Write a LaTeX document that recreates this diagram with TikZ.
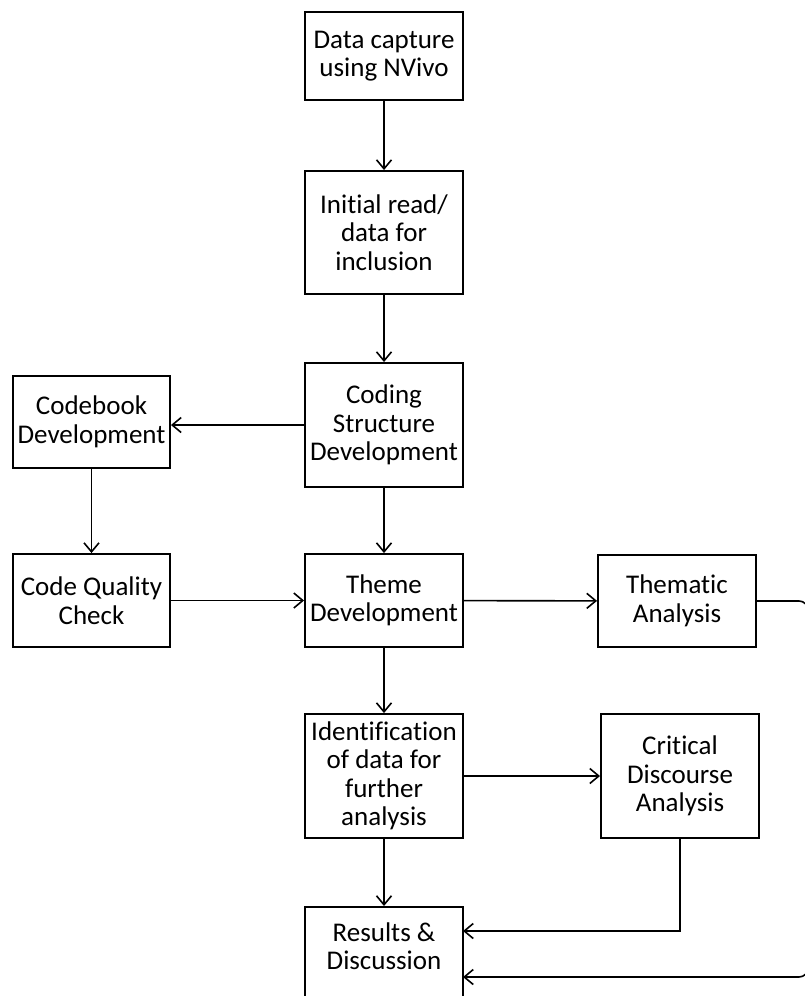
\documentclass[tikz,border=0pt]{standalone}
\usepackage{fontspec}
\setmainfont[Ligatures=NoCommon]{Carlito}
\usetikzlibrary{arrows.meta}
\begin{document}
\begin{tikzpicture}[x=1pt,y=-1pt,
  box/.style={draw, line width=1.9pt, inner sep=0pt, align=center,
    font=\fontsize{27}{28.5}\selectfont, minimum width=158pt},
  lbl/.style={inner sep=0pt, align=center, font=\fontsize{27}{28.5}\selectfont},
  conn/.style={line width=1.6pt, -{Straight Barb[length=9pt,width=15pt,line width=1.6pt]}}]
\useasboundingbox (0,0) rectangle (805,996);
\clip (0,0) rectangle (805,996);
\node[box, minimum height=88pt] (cap) at (384,56) {Data capture\\using NVivo};
\node[box, minimum height=123pt] (ini) at (384,232.5) {Initial read/\\data for\\inclusion};
\node[box, minimum height=124pt] (cod) at (384,425) {Coding\\Structure\\Development};
\node[box, minimum height=92pt, minimum width=157pt] (cb) at (91.5,422) {Codebook\\Development};
\node[box, minimum height=93pt, minimum width=157pt] (cq) at (91.5,600.5) {Code Quality\\Check};
\node[box, minimum height=93pt] (th) at (384,600.5) {Theme\\Development};
\node[box, minimum height=92pt] (ta) at (677,601) {Thematic\\Analysis};
\node[box, minimum height=124pt] (id) at (384,776) {Identification\\of data for\\further\\analysis};
\node[box, minimum height=124pt] (cd) at (680,776) {Critical\\Discourse\\Analysis};
\node[box, minimum height=112pt, anchor=north] (res) at (384,906) {};
\node[lbl] (restxt) at (384,946) {Results \&\\Discussion};
\coordinate (r1) at (463,931);
\coordinate (r2) at (463,977);
\coordinate (e1) at (808,601);
\coordinate (e2) at (808,977);
\draw[conn] (cap) -- (ini);
\draw[conn] (ini) -- (cod);
\draw[conn] (cod.west) -- (cod.west -| cb.east);
\draw[conn] (cb) -- (cq);
\draw[conn] (cod) -- (th);
\draw[conn] (cq) -- (th);
\draw[conn] (th) -- (ta);
\draw[conn] (th) -- (id);
\draw[conn] (id.east) -- (id.east -| cd.west);
\draw[conn] (id) -- (res);
\draw[conn] (cd.south) |- (r1);
\draw[conn, rounded corners=9pt] (ta.east) -- (e1) -- (e2) -- (r2);
\end{tikzpicture}
\end{document}
